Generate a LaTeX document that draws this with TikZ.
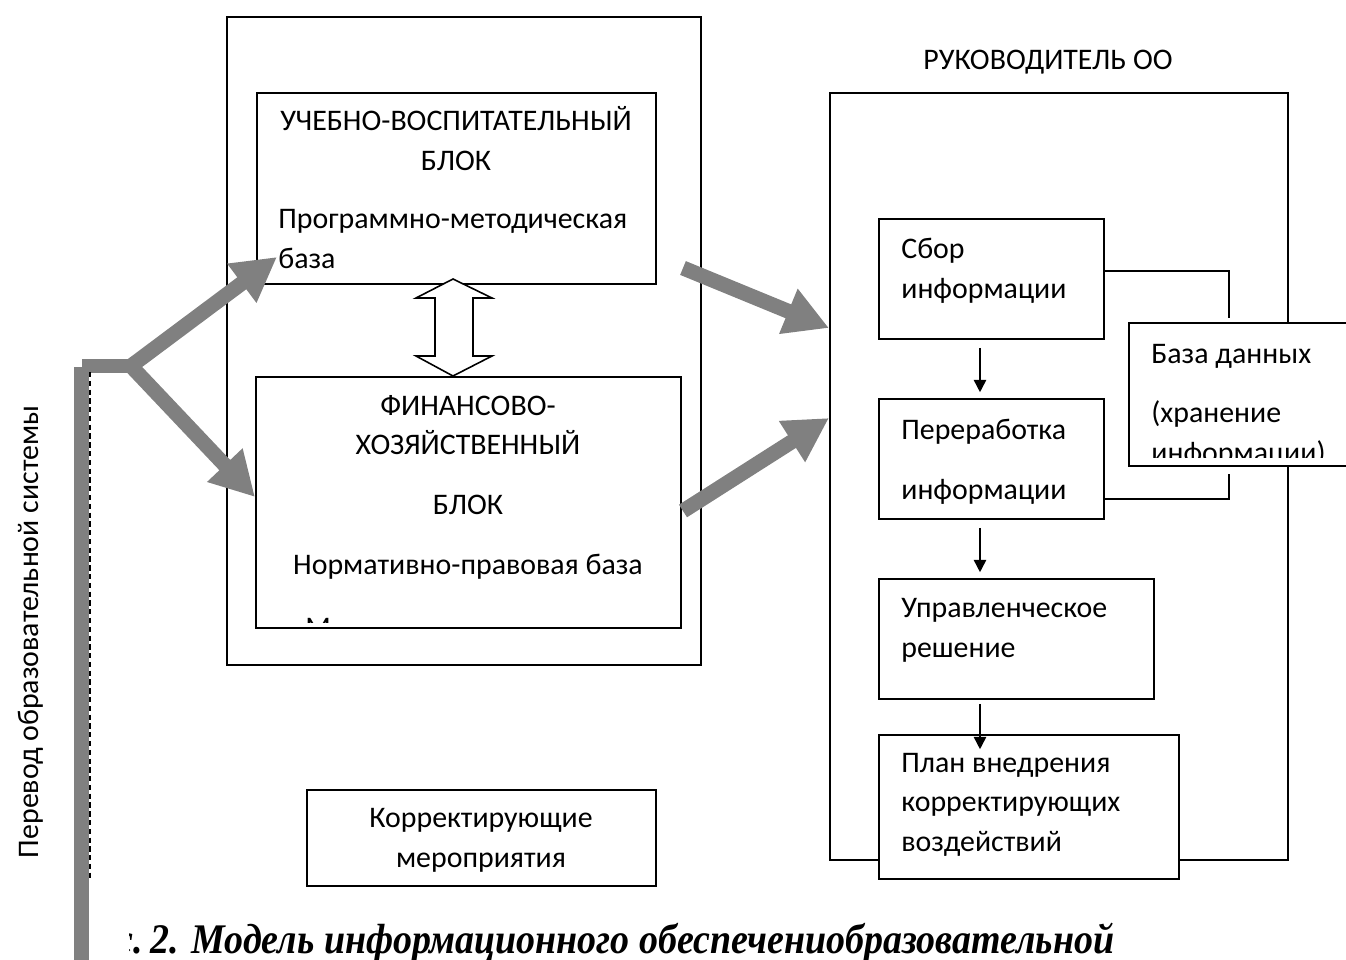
\documentclass[tikz,border=0pt]{standalone}
\usepackage{fontspec}
\setmainfont{Carlito}
\newfontfamily\capfont{Liberation Serif}
\usetikzlibrary{arrows.meta,fit}

\tikzset{
  frame/.style={draw, line width=0.9pt, inner sep=0pt},
  whiteframe/.style={frame, fill=white},
  txt/.style={font=\fontsize{17}{22.3}\selectfont, inner sep=0pt, align=left, anchor=base west},
  ctxt/.style={txt, align=center, anchor=base},
  captxt/.style={font=\capfont\bfseries\itshape\fontsize{24}{28}\selectfont, inner sep=0pt},
  flow/.style={draw, line width=0.9pt, -{Triangle[length=7pt,width=7pt]}},
  link/.style={draw, line width=0.9pt},
  bigarrow/.style={draw=gray, line width=8.5pt, -{Triangle[length=25pt,width=26pt]}},
  bar/.style={draw=gray, line width=8.5pt},
}

\begin{document}
\begin{tikzpicture}[x=0.02cm, y=-0.02cm]
    \useasboundingbox (0,0) rectangle (1346,960);

    % Left part: two blocks
    \node[frame, fit={(227,17) (701,665)}] (leftbox) {};
    \node[frame, fit={(257,93) (656,284)}] (uvb) {};
    \node[frame, fit={(256,377) (681,628)}] (fhb) {};
    \node[frame, fit={(307,790) (656,886)}] (korr) {};

    % (base anchor = last line)
    \node[ctxt] (uvbtitle) at (456,170) {УЧЕБНО-ВОСПИТАТЕЛЬНЫЙ\\БЛОК};
    \node[txt] (uvbbase) at (278,268) {Программно-методическая\\база};
    \node[ctxt] (fhbtitle) at (468,574)
        {ФИНАНСОВО-\\ХОЗЯЙСТВЕННЫЙ\\[11.7pt]БЛОК\\[11.7pt]Нормативно-правовая база};
    \begin{scope}
        \clip (257,378) rectangle (680,622);
        \node[txt] (fhbcut) at (305,637) {М};
    \end{scope}
    \node[ctxt] (korrtext) at (481,867) {Корректирующие\\мероприятия};

    % Double arrow between blocks
    \draw[line width=0.9pt, fill=white] (453,279) -- (492,298) -- (473,298) -- (473,356)
        -- (492,356) -- (453,376) -- (416,356) -- (435,356) -- (435,298) -- (416,298) -- cycle;

    % Right part: manager
    \node[ctxt] (head) at (1048,69) {РУКОВОДИТЕЛЬ ОО};
    \node[frame, fit={(830,93) (1288,860)}] (rbox) {};
    \node[whiteframe, fit={(879,219) (1104,339)}] (sbor) {};
    \node[whiteframe, fit={(879,399) (1104,519)}] (pere) {};
    \node[whiteframe, fit={(879,579) (1154,699)}] (upr) {};
    \node[whiteframe, fit={(879,735) (1179,879)}] (plan) {};
    \node[whiteframe, fit={(1129,323) (1360,466)}] (db) {};

    \node[txt] (sbortext) at (901,298) {Сбор\\информации};
    \node[txt] (peretext) at (901,499) {Переработка\\[11.7pt]информации};
    \node[txt] (uprtext) at (901,657) {Управленческое\\решение};
    \node[txt] (plantext) at (901,851) {План внедрения\\корректирующих\\воздействий};
    \begin{scope}
        \clip (1130,324) rectangle (1346,457);
        \node[txt] (dbtext) at (1151,462) {База данных\\[11.7pt](хранение\\информации)};
    \end{scope}

    % Flow inside
    \coordinate (fx) at (980,0);
    \draw[flow, shorten <=0.16cm, shorten >=0.12cm] (sbor.south -| fx) -- (pere.north -| fx);
    \draw[flow, shorten <=0.16cm, shorten >=0.12cm] (pere.south -| fx) -- (upr.north -| fx);
    \draw[flow, shorten <=0.08cm, shorten >=-0.3cm] (upr.south -| fx) -- (plan.north -| fx);

    \coordinate (k1) at (1229,318);
    \coordinate (k2) at (1229,474);
    \draw[link] ([yshift=0.16cm]sbor.east) -| (k1);
    \draw[link] ([yshift=-0.8cm]pere.east) -| (k2);

    % Gray arrows
    \coordinate (split) at (131,366);
    \coordinate (uvbin) at (277,257);
    \coordinate (fhbin) at (255,497);
    \coordinate (out1) at (683,268);
    \coordinate (out2) at (683,511);
    \coordinate (in1) at (829,328);
    \coordinate (in2) at (829,418);
    \coordinate (bartop) at (81.5,367);
    \coordinate (barbot) at (81.5,965);

    \draw[bar] (barbot) -- (bartop);
    \draw[bar] (82,366) -- (split);
    \draw[bigarrow] (split) -- (uvbin);
    \draw[bigarrow] (split) -- (fhbin);
    \draw[bigarrow] (out1) -- (in1);
    \draw[bigarrow] (out2) -- (in2);
    \draw[line width=0.6pt, dash pattern=on 3pt off 2pt] (90,372) -- (90,880);

    % Side label
    \node[txt, rotate=90, anchor=base] (side) at (38,632) {Перевод образовательной системы};

    % Caption
    \begin{scope}
        \clip (129,900) rectangle (145,960);
        \node[captxt, anchor=base east] (capcut) at (143,953) {\scalebox{0.9}[1]{Рис.}};
    \end{scope}
    \node[captxt, anchor=base west] (caption) at (150,953)
        {\scalebox{0.9}[1]{2. Модель информационного обеспечениобразовательной}};
\end{tikzpicture}
\end{document}
